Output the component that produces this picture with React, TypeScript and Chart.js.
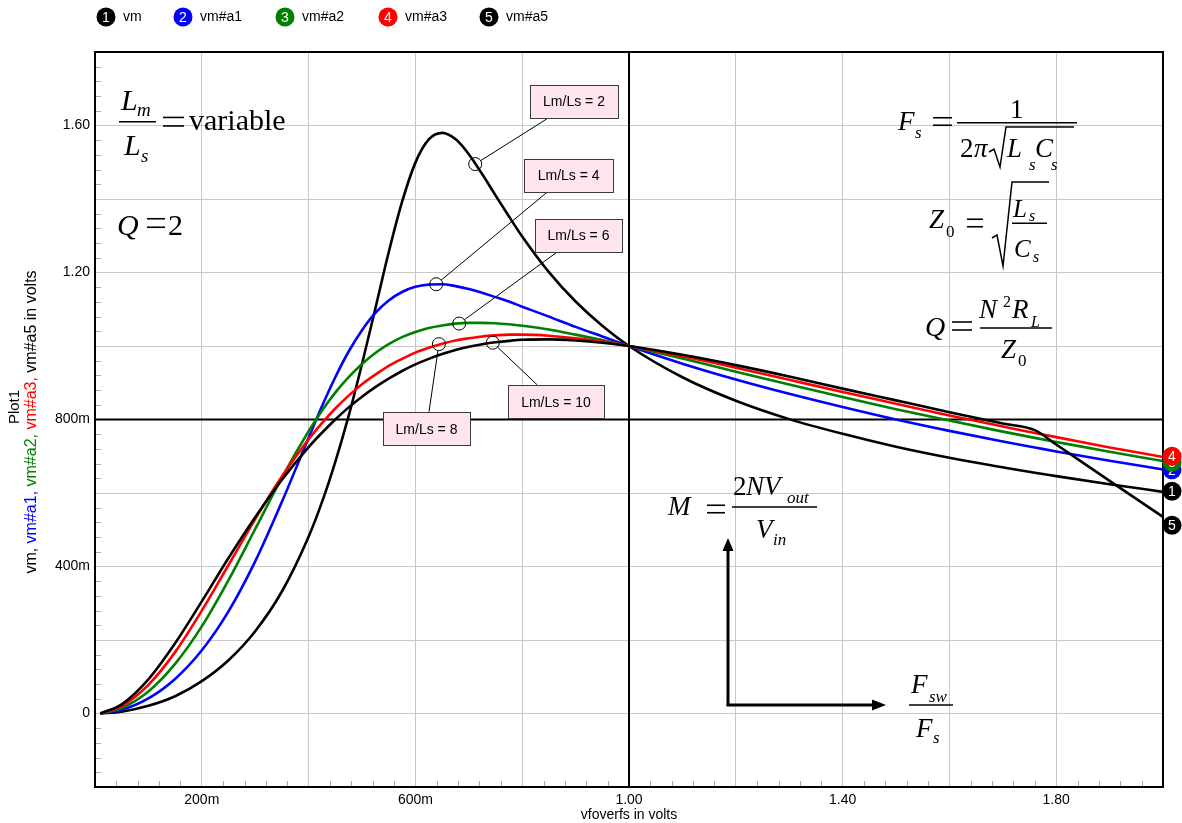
import React, { useEffect, useRef } from 'react';
import { Chart, registerables } from 'chart.js';

Chart.register(...registerables);

// normalized frequency Fsw/Fs
const fn = [0.01, 0.05, 0.1, 0.15, 0.2, 0.25, 0.3, 0.35, 0.4, 0.425, 0.45, 0.475, 0.5, 0.525, 0.55, 0.575, 0.6, 0.625, 0.65, 0.675, 0.7, 0.725, 0.75, 0.775, 0.8, 0.85, 0.9, 0.95, 1.0, 1.1, 1.2, 1.3, 1.4, 1.5, 1.6, 1.7, 1.76, 1.8, 1.9, 2.0];

// Lm/Ls = 2
const vm = [0, 0.005, 0.021, 0.047, 0.088, 0.145, 0.224, 0.332, 0.481, 0.575, 0.685, 0.810, 0.951, 1.102, 1.255, 1.392, 1.499, 1.562, 1.580, 1.563, 1.522, 1.468, 1.410, 1.353, 1.298, 1.201, 1.121, 1.055, 1.0, 0.915, 0.851, 0.801, 0.761, 0.726, 0.696, 0.670, 0.655, 0.646, 0.624, 0.603];
// Lm/Ls = 4
const vmA1 = [0, 0.010, 0.041, 0.094, 0.172, 0.278, 0.414, 0.576, 0.750, 0.836, 0.915, 0.985, 1.043, 1.090, 1.124, 1.147, 1.161, 1.167, 1.168, 1.163, 1.155, 1.145, 1.133, 1.121, 1.107, 1.080, 1.052, 1.026, 1.0, 0.952, 0.909, 0.870, 0.834, 0.800, 0.769, 0.740, 0.724, 0.713, 0.688, 0.664];
// Lm/Ls = 6
const vmA2 = [0, 0.015, 0.060, 0.135, 0.237, 0.363, 0.502, 0.642, 0.768, 0.824, 0.873, 0.915, 0.951, 0.981, 1.005, 1.024, 1.038, 1.049, 1.056, 1.061, 1.063, 1.063, 1.062, 1.059, 1.055, 1.045, 1.031, 1.016, 1.0, 0.966, 0.930, 0.895, 0.861, 0.828, 0.797, 0.767, 0.750, 0.739, 0.712, 0.687];
// Lm/Ls = 8
const vmA3 = [0, 0.020, 0.078, 0.167, 0.280, 0.404, 0.529, 0.645, 0.746, 0.790, 0.830, 0.865, 0.896, 0.922, 0.946, 0.965, 0.982, 0.995, 1.006, 1.015, 1.021, 1.026, 1.029, 1.031, 1.031, 1.028, 1.021, 1.012, 1.0, 0.972, 0.941, 0.908, 0.875, 0.843, 0.811, 0.781, 0.763, 0.752, 0.724, 0.698];
// Lm/Ls = 10
const vmA5 = [0, 0.025, 0.093, 0.191, 0.305, 0.423, 0.534, 0.636, 0.725, 0.764, 0.800, 0.833, 0.862, 0.888, 0.911, 0.932, 0.950, 0.965, 0.978, 0.989, 0.998, 1.005, 1.010, 1.014, 1.017, 1.018, 1.015, 1.009, 1.0, 0.976, 0.948, 0.917, 0.884, 0.852, 0.820, 0.789, 0.771, 0.732, 0.633, 0.535];

const seriesNames = ['vm', 'vm#a1', 'vm#a2', 'vm#a3', 'vm#a5'];
const seriesColors = ['#000000', '#0000ff', '#008000', '#ff0000', '#000000'];
const seriesNumbers = ['1', '2', '3', '4', '5'];
const endMarkerValues = [0.605, 0.663, 0.684, 0.700, 0.512];

const yTickValues = [0, 0.4, 0.8, 1.2, 1.6];
const yTickLabels = ['0', '400m', '800m', '1.20', '1.60'];
const xTickValues = [0.2, 0.6, 1.0, 1.4, 1.8];
const xTickLabels = ['200m', '600m', '1.00', '1.40', '1.80'];

const ratioLabels = ['Lm/Ls = 2', 'Lm/Ls = 4', 'Lm/Ls = 6', 'Lm/Ls = 8', 'Lm/Ls = 10'];
const ratioAnchors = [[0.712, 1.495], [0.639, 1.168], [0.682, 1.061], [0.644, 1.005], [0.745, 1.009]];
const ratioBoxes = [[0.897, 1.666, 88], [0.887, 1.4644, 89], [0.9054, 1.3009, 87], [0.6208, 0.7749, 87], [0.8633, 0.8485, 96]];
const ratioTies = [[0.8483, 1.6199], [0.8464, 1.4182], [0.867, 1.2574], [0.6255, 0.8212], [0.8277, 0.8948]];

const SANS = '"Liberation Sans", Arial, Helvetica, sans-serif';
const SERIF = '"Liberation Serif", "Times New Roman", Times, serif';

const allSeries = [vm, vmA1, vmA2, vmA3, vmA5];

function line(ctx: any, x1: number, y1: number, x2: number, y2: number) {
  ctx.beginPath();
  ctx.moveTo(x1, y1);
  ctx.lineTo(x2, y2);
  ctx.stroke();
}

function mt(ctx: any, s: string, x: number, y: number, size: number, italic = true) {
  ctx.font = `${italic ? 'italic ' : ''}${size}px ${SERIF}`;
  ctx.fillText(s, x, y);
}

function eq(ctx: any, x1: number, x2: number, yc: number, gap = 7.5) {
  ctx.lineWidth = 1.6;
  line(ctx, x1, yc - gap / 2, x2, yc - gap / 2);
  line(ctx, x1, yc + gap / 2, x2, yc + gap / 2);
}

function bar(ctx: any, x1: number, x2: number, y: number) {
  ctx.lineWidth = 1.5;
  line(ctx, x1, y, x2, y);
}

function poly(ctx: any, pts: number[][]) {
  ctx.lineWidth = 1.5;
  ctx.beginPath();
  ctx.moveTo(pts[0][0], pts[0][1]);
  for (let i = 1; i < pts.length; i++) ctx.lineTo(pts[i][0], pts[i][1]);
  ctx.stroke();
}

function drawMath(ctx: any) {
  ctx.save();
  ctx.fillStyle = '#000';
  ctx.strokeStyle = '#000';
  ctx.textAlign = 'left';
  ctx.textBaseline = 'alphabetic';

  // Lm/Ls = variable
  mt(ctx, 'L', 121, 110, 30);
  mt(ctx, 'm', 137, 116, 19);
  bar(ctx, 119, 156, 121.7);
  mt(ctx, 'L', 124, 155, 30);
  mt(ctx, 's', 141, 162, 19);
  eq(ctx, 163, 184, 121.7, 8.5);
  mt(ctx, 'variable', 189, 130, 30, false);

  // Q = 2
  mt(ctx, 'Q', 117, 235, 30);
  eq(ctx, 147, 165, 223, 8.5);
  mt(ctx, '2', 168, 235, 30, false);

  // Fs = 1 / (2 pi sqrt(Ls Cs))
  mt(ctx, 'F', 898, 130, 27);
  mt(ctx, 's', 915, 138, 17);
  eq(ctx, 933, 952, 121.5, 7.5);
  mt(ctx, '1', 1010, 118, 27, false);
  bar(ctx, 957, 1077, 122.7);
  mt(ctx, '2', 960, 157, 27, false);
  mt(ctx, 'π', 974, 157, 27);
  poly(ctx, [[989, 152], [994, 149], [1000, 167], [1006, 127], [1074, 127]]);
  mt(ctx, 'L', 1007, 157, 27);
  mt(ctx, 'C', 1035, 157, 27);
  mt(ctx, 's', 1029, 170, 17);
  mt(ctx, 's', 1051, 170, 17);

  // Z0 = sqrt(Ls/Cs)
  mt(ctx, 'Z', 929, 228, 27);
  mt(ctx, '0', 946, 237, 17, false);
  eq(ctx, 967, 983, 223, 7.5);
  poly(ctx, [[992, 238], [997, 235], [1003, 266], [1012, 182], [1049, 182]]);
  mt(ctx, 'L', 1013, 217, 25);
  mt(ctx, 's', 1029, 221, 16);
  bar(ctx, 1012, 1047, 223.3);
  mt(ctx, 'C', 1014, 257, 25);
  mt(ctx, 's', 1033, 262, 16);

  // Q = N^2 RL / Z0
  mt(ctx, 'Q', 925, 336, 28);
  eq(ctx, 952, 972, 326, 8);
  mt(ctx, 'N', 979, 318, 27);
  mt(ctx, '2', 1003, 307, 16, false);
  mt(ctx, 'R', 1012, 318, 27);
  mt(ctx, 'L', 1031, 327, 16);
  bar(ctx, 980, 1052, 328);
  mt(ctx, 'Z', 1001, 358, 27);
  mt(ctx, '0', 1018, 366, 17, false);

  // M = 2 N Vout / Vin
  mt(ctx, 'M', 668, 515, 27);
  eq(ctx, 707, 725, 509, 7.5);
  mt(ctx, '2', 733, 495, 27, false);
  mt(ctx, 'NV', 746, 495, 27);
  mt(ctx, 'out', 787, 503, 17);
  bar(ctx, 732, 817, 507);
  mt(ctx, 'V', 756, 538, 27);
  mt(ctx, 'in', 773, 545, 17);

  // Fsw / Fs
  mt(ctx, 'F', 911, 693, 27);
  mt(ctx, 'sw', 929, 702, 17);
  bar(ctx, 909, 953, 705);
  mt(ctx, 'F', 916, 737, 27);
  mt(ctx, 's', 933, 743, 17);

  // axes arrows
  ctx.lineWidth = 3;
  ctx.beginPath();
  ctx.moveTo(728, 705);
  ctx.lineTo(728, 549);
  ctx.stroke();
  ctx.beginPath();
  ctx.moveTo(726.5, 705);
  ctx.lineTo(873, 705);
  ctx.stroke();
  ctx.beginPath();
  ctx.moveTo(728, 538);
  ctx.lineTo(722.5, 551);
  ctx.lineTo(733.5, 551);
  ctx.closePath();
  ctx.fill();
  ctx.beginPath();
  ctx.moveTo(886, 705);
  ctx.lineTo(872, 699.5);
  ctx.lineTo(872, 710.5);
  ctx.closePath();
  ctx.fill();
  ctx.restore();
}

function numberedDot(ctx: any, cx: number, cy: number, r: number, color: string, n: string) {
  ctx.beginPath();
  ctx.arc(cx, cy, r, 0, Math.PI * 2);
  ctx.fillStyle = color;
  ctx.fill();
  ctx.fillStyle = '#fff';
  ctx.font = `14px ${SANS}`;
  ctx.textAlign = 'center';
  ctx.textBaseline = 'middle';
  ctx.fillText(n, cx, cy + 1);
}

const overlay = {
  id: 'overlay',
  beforeDatasetsDraw(chart: any) {
    const { ctx, chartArea: a, scales } = chart;
    const x = scales.x;
    const y = scales.y;
    ctx.save();
    ctx.strokeStyle = '#a8a8a8';
    ctx.lineWidth = 1;
    for (let i = 0; i <= 50; i++) {
      if (i % 5 === 0) continue;
      const py = Math.round(y.getPixelForValue(-0.2 + i * 0.04)) + 0.5;
      line(ctx, a.left, py, a.left + 6, py);
      const px = Math.round(x.getPixelForValue(i * 0.04)) + 0.5;
      line(ctx, px, a.bottom, px, a.bottom - 6);
    }
    ctx.strokeStyle = '#000';
    ctx.lineWidth = 2;
    const py = y.getPixelForValue(0.8);
    line(ctx, a.left, py, a.right, py);
    const px = x.getPixelForValue(1.0);
    line(ctx, px, a.top, px, a.bottom);
    ctx.restore();
  },
  afterDatasetsDraw(chart: any) {
    const { ctx, chartArea: a, scales } = chart;
    const x = scales.x;
    const y = scales.y;
    ctx.save();

    // frame
    ctx.strokeStyle = '#000';
    ctx.lineWidth = 2;
    ctx.strokeRect(a.left, a.top, a.right - a.left, a.bottom - a.top);

    // Lm/Ls annotations
    for (let i = 0; i < ratioLabels.length; i++) {
      const ax = x.getPixelForValue(ratioAnchors[i][0]);
      const ay = y.getPixelForValue(ratioAnchors[i][1]);
      const tx = x.getPixelForValue(ratioTies[i][0]);
      const ty = y.getPixelForValue(ratioTies[i][1]);
      const r = 6.5;
      const d = Math.hypot(tx - ax, ty - ay);
      ctx.strokeStyle = '#000';
      ctx.lineWidth = 1;
      line(ctx, ax + ((tx - ax) / d) * r, ay + ((ty - ay) / d) * r, tx, ty);
      ctx.beginPath();
      ctx.arc(ax, ay, r, 0, Math.PI * 2);
      ctx.stroke();
      const bx = x.getPixelForValue(ratioBoxes[i][0]);
      const by = y.getPixelForValue(ratioBoxes[i][1]);
      const bw = ratioBoxes[i][2];
      const bh = 33;
      ctx.fillStyle = '#fde4ef';
      ctx.fillRect(bx - bw / 2, by - bh / 2, bw, bh);
      ctx.strokeStyle = '#3a3a3a';
      ctx.strokeRect(Math.round(bx - bw / 2) + 0.5, Math.round(by - bh / 2) + 0.5, bw, bh);
      ctx.fillStyle = '#000';
      ctx.font = `14px ${SANS}`;
      ctx.textAlign = 'center';
      ctx.textBaseline = 'middle';
      ctx.fillText(ratioLabels[i], bx, by + 1);
    }
    ctx.restore();

    drawMath(ctx);

    ctx.save();
    // end markers
    for (let i = 0; i < allSeries.length; i++) {
      numberedDot(ctx, a.right + 9, y.getPixelForValue(endMarkerValues[i]), 9.5, seriesColors[i], seriesNumbers[i]);
    }

    // legend
    const legendX = [106, 183, 285, 388, 489];
    for (let i = 0; i < seriesNames.length; i++) {
      numberedDot(ctx, legendX[i], 17, 9.5, seriesColors[i], seriesNumbers[i]);
      ctx.fillStyle = '#000';
      ctx.font = `14px ${SANS}`;
      ctx.textAlign = 'left';
      ctx.textBaseline = 'middle';
      ctx.fillText(seriesNames[i], legendX[i] + 17, 17);
    }

    // y axis title
    ctx.save();
    ctx.translate(32, 422);
    ctx.rotate(-Math.PI / 2);
    ctx.font = `16px ${SANS}`;
    ctx.textAlign = 'left';
    ctx.textBaseline = 'middle';
    const parts = [
      ['vm, ', seriesColors[0]],
      ['vm#a1, ', seriesColors[1]],
      ['vm#a2, ', seriesColors[2]],
      ['vm#a3, ', seriesColors[3]],
      ['vm#a5 in volts', seriesColors[4]],
    ];
    const total = parts.reduce((s, p) => s + ctx.measureText(p[0]).width, 0);
    let cx = -total / 2;
    for (const p of parts) {
      ctx.fillStyle = p[1];
      ctx.fillText(p[0], cx, 0);
      cx += ctx.measureText(p[0]).width;
    }
    ctx.restore();
    ctx.save();
    ctx.translate(15, 407);
    ctx.rotate(-Math.PI / 2);
    ctx.font = `15px ${SANS}`;
    ctx.textAlign = 'center';
    ctx.textBaseline = 'middle';
    ctx.fillStyle = '#000';
    ctx.fillText('Plot1', 0, 0);
    ctx.restore();

    // x axis title
    ctx.font = `14px ${SANS}`;
    ctx.textAlign = 'center';
    ctx.textBaseline = 'middle';
    ctx.fillStyle = '#000';
    ctx.fillText('vfoverfs in volts', (a.left + a.right) / 2, 815);
    ctx.restore();
  },
};

function pickLabel(values: number[], labels: string[], v: number) {
  const i = values.findIndex((t) => Math.abs(t - v) < 1e-6);
  return i >= 0 ? labels[i] : '';
}

export default function App() {
  const ref = useRef<HTMLCanvasElement>(null);
  useEffect(() => {
    const datasets = allSeries.map((s, i) => ({
      label: seriesNames[i],
      data: fn.map((f, j) => ({ x: f, y: s[j] })),
      borderColor: seriesColors[i],
      backgroundColor: seriesColors[i],
      borderWidth: 2.6,
      pointRadius: 0,
      fill: false,
      cubicInterpolationMode: 'monotone' as const,
      order: 4 - i,
    }));
    const chart = new Chart(ref.current as HTMLCanvasElement, {
      type: 'line',
      data: { datasets },
      options: {
        responsive: false,
        animation: false,
        devicePixelRatio: 1,
        layout: { padding: { top: 52, right: 19, left: 0, bottom: 0 } },
        plugins: { legend: { display: false }, tooltip: { enabled: false }, title: { display: false } },
        scales: {
          x: {
            type: 'linear',
            min: 0,
            max: 2,
            afterFit: (s: any) => {
              s.height = 36;
            },
            ticks: {
              stepSize: 0.2,
              autoSkip: false,
              maxRotation: 0,
              padding: 5,
              color: '#000',
              font: { family: SANS, size: 14 },
              callback: (v: any) => pickLabel(xTickValues, xTickLabels, Number(v)),
            },
            grid: { color: '#c8c8c8', lineWidth: 1, drawTicks: false },
            border: { display: false },
          },
          y: {
            type: 'linear',
            min: -0.2,
            max: 1.8,
            afterFit: (s: any) => {
              s.width = 95;
            },
            ticks: {
              stepSize: 0.2,
              autoSkip: false,
              padding: 5,
              color: '#000',
              font: { family: SANS, size: 14 },
              callback: (v: any) => pickLabel(yTickValues, yTickLabels, Number(v)),
            },
            grid: { color: '#c8c8c8', lineWidth: 1, drawTicks: false },
            border: { display: false },
          },
        },
      },
      plugins: [overlay],
    });
    return () => chart.destroy();
  }, []);
  return (
    <canvas
      ref={ref}
      width={1182}
      height={823}
      style={{ position: 'fixed', left: 0, top: 0, width: 1182, height: 823, display: 'block' }}
    />
  );
}
